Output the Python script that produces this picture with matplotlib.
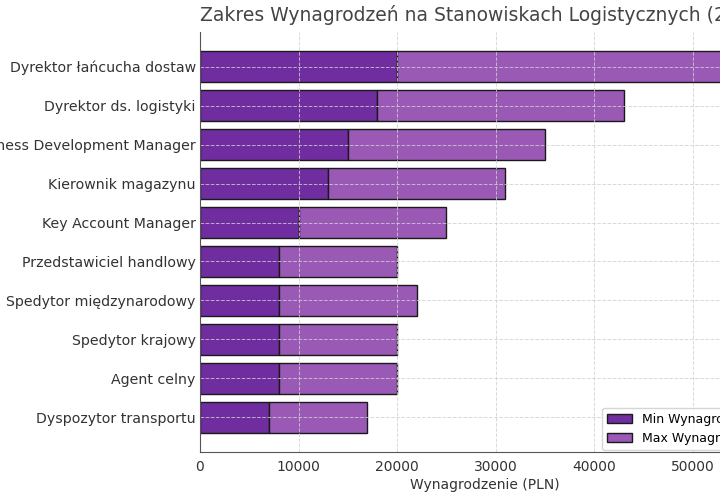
import matplotlib.pyplot as plt
import numpy as np

positions = [
    "Dyrektor łańcucha dostaw",
    "Dyrektor ds. logistyki",
    "Business Development Manager",
    "Kierownik magazynu",
    "Key Account Manager",
    "Przedstawiciel handlowy",
    "Spedytor międzynarodowy",
    "Spedytor krajowy",
    "Agent celny",
    "Dyspozytor transportu",
]
min_salary = [20000, 18000, 15000, 13000, 10000, 8000, 8000, 8000, 8000, 7000]
max_salary = [55000, 43000, 35000, 31000, 25000, 20000, 22000, 20000, 20000, 17000]

plt.rcParams['font.family'] = ['DejaVu Sans']
text_col = '#333333'

fig = plt.figure(figsize=(7.2, 5), dpi=100)
# axes extends past the right edge, like the cropped original
ax = fig.add_axes([200 / 720, 48 / 500, 569 / 720, 420 / 500])

y = np.arange(len(positions))
widths = [mx - mn for mn, mx in zip(min_salary, max_salary)]
ax.barh(y, min_salary, color='#6f2da0', edgecolor='#1a1a1a', linewidth=1,
        label='Min Wynagrodzenie')
ax.barh(y, widths, left=min_salary, color='#9b59b6', edgecolor='#1a1a1a',
        linewidth=1, label='Max Wynagrodzenie')

ax.set_yticks(y)
ax.set_yticklabels(positions, fontsize=10.2, color=text_col)
ax.invert_yaxis()
ax.tick_params(axis='x', labelsize=10, colors=text_col, length=0, pad=6)
ax.tick_params(axis='y', length=0, pad=3)

ax.grid(True, linestyle='--', color='#d0d0d0', linewidth=0.7, alpha=0.8)
for side in ['top', 'right']:
    ax.spines[side].set_visible(False)
ax.spines['left'].set_color('#555555')
ax.spines['bottom'].set_color('#555555')

ax.set_xlabel('Wynagrodzenie (PLN)', fontsize=10, color=text_col, labelpad=3)
ax.set_title('Zakres Wynagrodzeń na Stanowiskach Logistycznych (2024)',
             fontsize=13.5, color='#444444', pad=8)
ax.legend(loc='lower left', fontsize=9, borderaxespad=0,
          bbox_to_anchor=(602 / 720, 50 / 500), bbox_transform=fig.transFigure)

fig.savefig('out.png', dpi=100)
